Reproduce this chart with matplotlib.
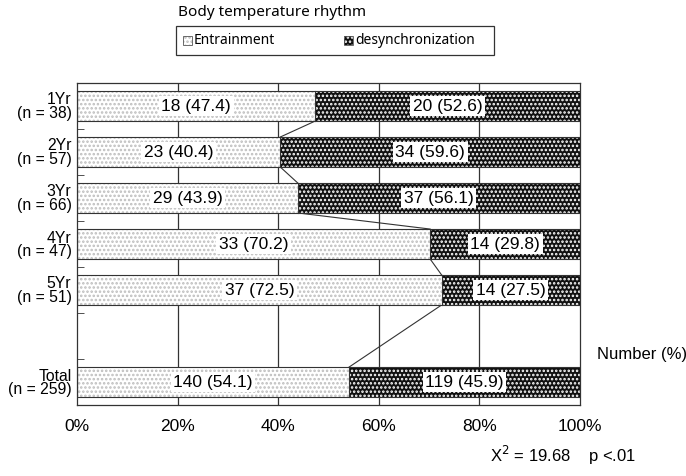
import matplotlib
matplotlib.use("Agg")
import matplotlib.pyplot as plt
from matplotlib.patches import Rectangle
import numpy as np

plt.rcParams['font.family'] = ['Liberation Sans', 'DejaVu Sans']
plt.rcParams['hatch.linewidth'] = 1.2

groups = ["1Yr", "2Yr", "3Yr", "4Yr", "5Yr", "", "Total"]
group_n = [38, 57, 66, 47, 51, None, 259]
entrain_n = [18, 23, 29, 33, 37, None, 140]
entrain_pct = [47.4, 40.4, 43.9, 70.2, 72.5, None, 54.1]
desync_n = [20, 34, 37, 14, 14, None, 119]
desync_pct = [52.6, 59.6, 56.1, 29.8, 27.5, None, 45.9]
x_ticks = [0, 20, 40, 60, 80, 100]
legend_labels = ["Entrainment", "desynchronization"]

W, H = 686, 476

def fx(px):
    return px / W

def fy(py):
    return 1 - py / H

ENT_STYLE = dict(facecolor='white', edgecolor='#bdbdbd', hatch='....')
DES_STYLE = dict(facecolor='#111111', edgecolor='#ffffff', hatch='....')

fig = plt.figure(figsize=(W / 100, H / 100), dpi=100)
ax = fig.add_axes([fx(77), fy(405), fx(503), 322 / H])

ypos = np.arange(len(groups))
bar_h = 0.65
fs = 12.5

for gx in x_ticks[1:-1]:
    ax.axvline(gx, color='#333333', lw=0.9, zorder=0)

for i in range(len(groups)):
    if entrain_pct[i] is None:
        continue
    e = entrain_pct[i]
    d = desync_pct[i]
    ax.barh(ypos[i], e, height=bar_h, lw=0, zorder=2, **ENT_STYLE)
    ax.barh(ypos[i], d, left=e, height=bar_h, lw=0, zorder=2, **DES_STYLE)
    ax.barh(ypos[i], 100, height=bar_h, fill=False, edgecolor='#333333', lw=0.8, zorder=3)
    ax.plot([e, e], [ypos[i] - bar_h / 2, ypos[i] + bar_h / 2], color='#333333', lw=0.8, zorder=3)
    ax.text(e / 2, ypos[i], f"{entrain_n[i]} ({e:.1f})", ha='center', va='center',
            fontsize=fs, zorder=4,
            bbox=dict(boxstyle='square,pad=0.15', fc='white', ec='none'))
    ax.text(e + d / 2, ypos[i], f"{desync_n[i]} ({d:.1f})", ha='center', va='center',
            fontsize=fs, zorder=4,
            bbox=dict(boxstyle='square,pad=0.15', fc='white', ec='none'))

# connector lines between neighbouring bars
valid = [i for i in range(len(groups)) if entrain_pct[i] is not None]
for a, b in zip(valid[:-1], valid[1:]):
    ax.plot([entrain_pct[a], entrain_pct[b]],
            [ypos[a] + bar_h / 2, ypos[b] - bar_h / 2],
            color='#333333', lw=0.8, zorder=1)

ax.set_xlim(0, 100)
ax.set_ylim(len(groups) - 0.5, -0.5)
ax.set_xticks(x_ticks)
ax.set_xticklabels([f"{t}%" for t in x_ticks], fontsize=fs)
ax.tick_params(axis='x', length=0, pad=10)

ylabels = []
for g, n in zip(groups, group_n):
    ylabels.append(f"{g}\n(n = {n})" if n is not None else "")
ax.set_yticks(ypos)
ax.set_yticklabels(ylabels, fontsize=11.3, linespacing=0.88, ha='right')
ax.tick_params(axis='y', which='major', length=0, pad=4)
ax.set_yticks(ypos[:-1] + 0.5, minor=True)
ax.tick_params(axis='y', which='minor', direction='in', length=5, color='#333333')

for s in ax.spines.values():
    s.set_color('#333333')
    s.set_linewidth(0.9)

fig.text(fx(597), fy(354), "Number (%)", fontsize=12, va='center', ha='left')
fig.text(fx(490), fy(455), r"X$^2$ = 19.68    p <.01", fontsize=12, va='center', ha='left')

# legend drawn by hand
lfont = ['Noto Sans', 'DejaVu Sans']
fig.text(fx(178), fy(13), "Body temperature rhythm", fontsize=11,
         family=lfont, va='center', ha='left')
fig.patches.append(Rectangle((fx(176), fy(55)), fx(318), 29 / H, transform=fig.transFigure,
                             facecolor='white', edgecolor='#333333', lw=0.9))
for x0, label, style in [(183, legend_labels[0], ENT_STYLE), (344, legend_labels[1], DES_STYLE)]:
    fig.patches.append(Rectangle((fx(x0), fy(45)), fx(9), 9 / H, transform=fig.transFigure,
                                 lw=0, **style))
    fig.patches.append(Rectangle((fx(x0), fy(45)), fx(9), 9 / H, transform=fig.transFigure,
                                 fill=False, edgecolor='#555555', lw=0.6))
    fig.text(fx(x0 + 11), fy(40.5), label, fontsize=10, family=lfont, va='center', ha='left')

fig.savefig("out.png", dpi=100)
